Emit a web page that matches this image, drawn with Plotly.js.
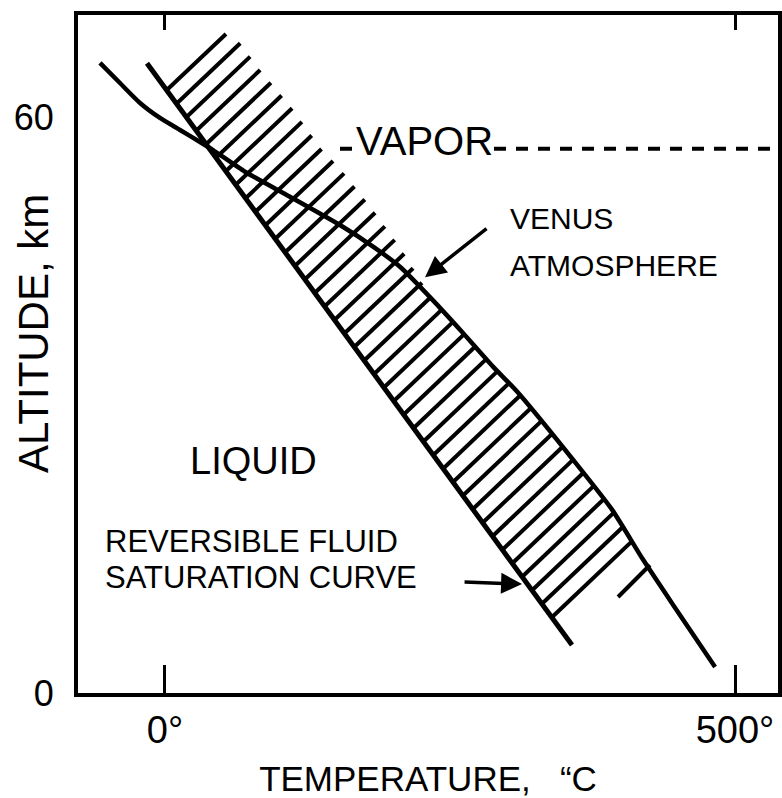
<!DOCTYPE html>
<html><head><meta charset="utf-8">
<script src="https://cdn.plot.ly/plotly-3.0.1.min.js"></script>
<style>html,body{margin:0;padding:0;background:#fff}</style>
</head><body><div id="chart" style="width:782px;height:798px"></div>
<script>
// Axis ticks
const xTickVals = [0, 500];
const xTickText = ['0°', '500°'];
const yTickVals = [0, 60];
const yTickText = ['0', '60'];

// Reversible fluid saturation curve (temperature °C, altitude km)
const satTemp = [-15.8, 357.0];
const satAlt  = [65.6, 5.0];

// Venus atmosphere profile
const venusTemp = [-57.0, -39.5, -21.9, -4.4, 13.2, 30.7, 42.1, 70.2, 109.6, 153.5, 182.5, 206.1, 235.1, 261.4, 287.7, 308.8, 357.9, 392.1, 419.3, 445.6, 482.5];
const venusAlt  = [65.63, 63.54, 61.46, 59.90, 58.65, 57.40, 56.56, 54.3, 51.7, 48.75, 46.5, 44.4, 40.9, 37.5, 34.0, 31.4, 24.3, 19.1, 13.9, 9.2, 2.7];

// Hatch strokes of the shaded band: start (on saturation curve) and end
const hatchTemp0 = [1.6, 10.3, 18.9, 27.6, 36.3, 45.0, 53.6, 62.3, 71.0, 79.6, 88.3, 97.0, 105.7, 114.4, 123.1, 131.8, 140.4, 149.1, 157.8, 166.5, 175.2, 183.9, 192.5, 201.2, 209.9, 218.6, 227.2, 235.9, 244.6, 253.2, 261.9, 270.6, 279.3, 288.0, 296.7, 305.4, 314.0, 322.7, 331.4, 340.1, 397.4];
const hatchAlt0  = [62.81, 61.41, 60.00, 58.59, 57.19, 55.78, 54.38, 52.97, 51.56, 50.16, 48.75, 47.34, 45.94, 44.53, 43.13, 41.72, 40.31, 38.91, 37.50, 36.09, 34.69, 33.28, 31.88, 30.47, 29.06, 27.66, 26.25, 24.84, 23.44, 22.03, 20.63, 19.22, 17.81, 16.41, 15.00, 13.59, 12.19, 10.78, 9.38, 7.97, 10.00];
const hatchTemp1 = [53.5, 66.0, 74.7, 83.5, 92.9, 102.3, 111.5, 120.1, 128.7, 137.3, 147.4, 157.1, 166.2, 175.3, 184.3, 192.9, 201.5, 209.8, 217.6, 225.4, 233.5, 242.8, 252.9, 262.5, 272.2, 281.8, 291.5, 301.5, 311.3, 320.6, 329.9, 339.2, 348.6, 357.8, 366.8, 375.9, 384.8, 393.7, 401.6, 409.5, 425.4];
const hatchAlt1  = [68.65, 67.69, 66.29, 64.90, 63.57, 62.24, 60.91, 59.49, 58.07, 56.66, 55.42, 54.13, 52.76, 51.40, 50.03, 48.61, 47.20, 45.75, 44.25, 42.74, 41.27, 39.93, 38.69, 37.38, 36.09, 34.78, 33.50, 32.25, 30.97, 29.64, 28.29, 26.96, 25.63, 24.28, 22.92, 21.55, 20.18, 18.79, 17.29, 15.79, 13.33];

// Vapor boundary (dashed)
const vaporTemp = [153.5, 537.7];
const vaporAlt  = [56.7, 56.7];

const FONT = 'Liberation Sans, Arial, sans-serif';
const xRange = [-76.3, 537.7];

// Build segment arrays for the hatch strokes
const hx = [], hy = [];
for (let i = 0; i < hatchTemp0.length; i++) {
  hx.push(hatchTemp0[i], hatchTemp1[i], null);
  hy.push(hatchAlt0[i], hatchAlt1[i], null);
}

const traces = [
  {x: hx, y: hy, mode: 'lines', line: {color: 'black', width: 4}, connectgaps: false, hoverinfo: 'skip'},
  {x: satTemp, y: satAlt, mode: 'lines', line: {color: 'black', width: 5}},
  {x: venusTemp, y: venusAlt, mode: 'lines', line: {color: 'black', width: 4.5, shape: 'spline', smoothing: 0.6}},
  {x: vaporTemp, y: vaporAlt, xaxis: 'x2', mode: 'lines', line: {color: 'black', width: 4, dash: '12px,10px'}}
];

const layout = {
  width: 782, height: 798,
  margin: {l: 78, r: 4, t: 15, b: 105},
  paper_bgcolor: 'white', plot_bgcolor: 'white',
  showlegend: false,
  font: {family: FONT, color: 'black'},
  xaxis: {
    range: xRange, tickvals: xTickVals, ticktext: xTickText,
    ticks: 'inside', ticklen: 28, tickwidth: 3, tickcolor: 'black',
    showline: true, linewidth: 4, linecolor: 'black', mirror: true,
    showgrid: false, zeroline: false,
    tickfont: {family: FONT, size: 38, color: 'black'},
    ticklabelstandoff: 0,
    title: {text: 'TEMPERATURE,\u00a0\u00a0\u00a0\u201cC', font: {family: FONT, size: 35, color: 'black'}, standoff: 30}
  },
  xaxis2: {
    overlaying: 'x', side: 'top', range: xRange, tickvals: xTickVals,
    ticks: 'inside', ticklen: 15, tickwidth: 3, tickcolor: 'black',
    showticklabels: false, showline: false, showgrid: false, zeroline: false
  },
  yaxis: {
    range: [0, 70.625], tickvals: yTickVals, ticktext: yTickText,
    ticks: '', showline: true, linewidth: 4, linecolor: 'black', mirror: true,
    showgrid: false, zeroline: false,
    tickfont: {family: FONT, size: 36, color: 'black'},
    ticklabelstandoff: 13
  },
  annotations: [
    {text: 'ALTITUDE, km', textangle: -90, xref: 'paper', yref: 'paper', x: -0.0629, y: 0.531,
     xanchor: 'center', yanchor: 'middle', showarrow: false, font: {family: FONT, size: 42, color: 'black'}},
    {text: 'VAPOR', x: 227.2, y: 57.5, showarrow: false, bgcolor: 'white', borderpad: 0,
     font: {family: FONT, size: 40, color: 'black'}},
    {text: 'VENUS', x: 300.9, y: 49.4, xanchor: 'left', showarrow: false,
     font: {family: FONT, size: 30, color: 'black'}},
    {text: 'ATMOSPHERE', x: 300.9, y: 44.5, xanchor: 'left', showarrow: false,
     font: {family: FONT, size: 30, color: 'black'}},
    {text: 'LIQUID', x: 77.2, y: 24.2, showarrow: false,
     font: {family: FONT, size: 38, color: 'black'}},
    {text: 'REVERSIBLE FLUID', x: -54.4, y: 15.8, xanchor: 'left', showarrow: false,
     font: {family: FONT, size: 31, color: 'black'}},
    {text: 'SATURATION CURVE', x: -54.4, y: 12.0, xanchor: 'left', showarrow: false,
     font: {family: FONT, size: 31, color: 'black'}},
    {text: '', x: 228.1, y: 43.3, ax: 63, ay: -50, showarrow: true, arrowhead: 2, arrowsize: 1.2,
     arrowwidth: 3.5, arrowcolor: 'black', standoff: 0},
    {text: '', x: 313.2, y: 11.35, ax: -59, ay: -2, showarrow: true, arrowhead: 2, arrowsize: 1.2,
     arrowwidth: 3.5, arrowcolor: 'black', standoff: 0}
  ]
};

Plotly.newPlot('chart', traces, layout, {displayModeBar: false, staticPlot: true});
</script>
</body></html>
